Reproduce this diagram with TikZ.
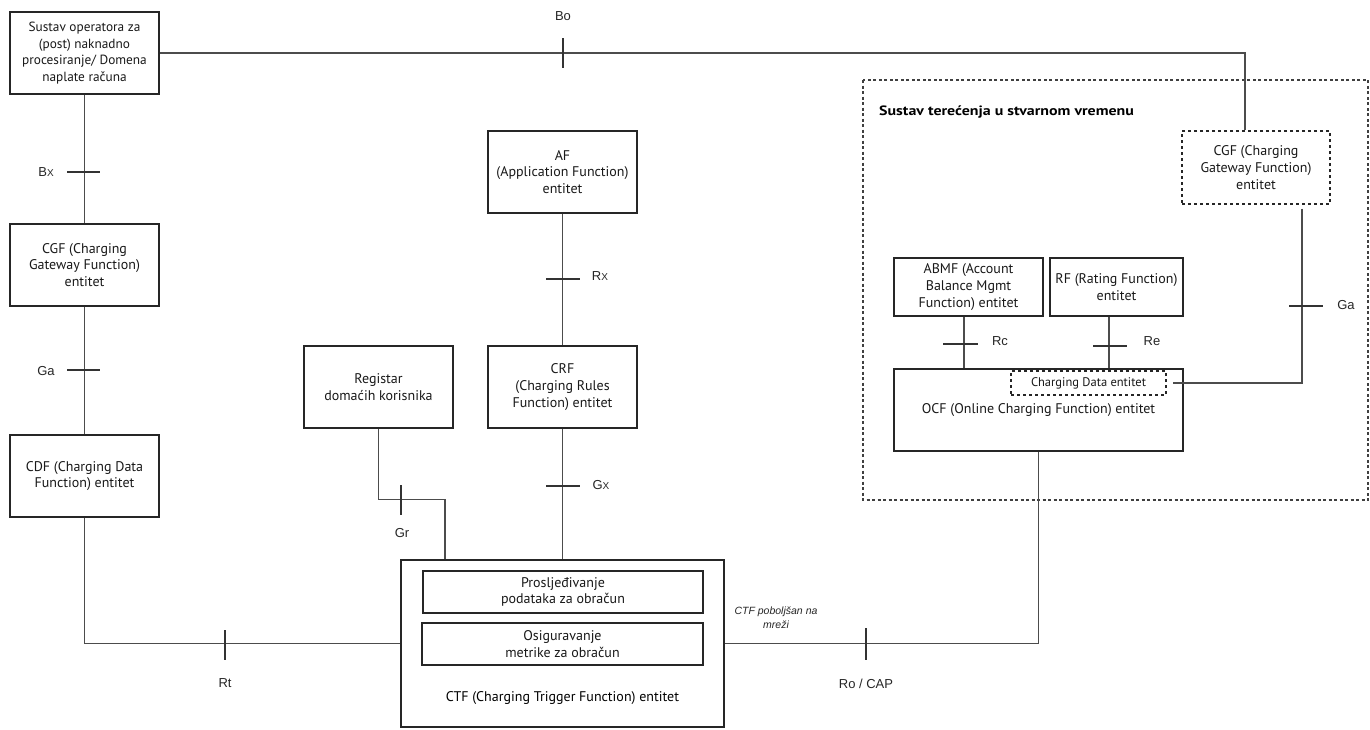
\documentclass[tikz,border=0pt]{standalone}
\usepackage{fontspec}
\setmainfont{PT Sans}
\newfontfamily\lblfont{Liberation Sans}
\newfontfamily\titlefont[FakeStretch=1.18]{PT Sans Bold}
\begin{document}
\begin{tikzpicture}[x=1pt,y=-1pt,
  box/.style={draw=black!85,line width=1.2pt,align=center,inner sep=2pt,font=\fontsize{14}{16.8}\selectfont,text=black!90},
  dbox/.style={box,dashed},
  conn/.style={draw=black!70,line width=1.4pt},
  tick/.style={draw=black!80,line width=1.3pt},
  lbl/.style={font=\lblfont\fontsize{13}{15}\selectfont,text=black!85,inner sep=0pt}]
\useasboundingbox (0,0) rectangle (1370,729);
\fill[white] (0,0) rectangle (1370,729);
% outer dashed region
\draw[black!75,line width=1.1pt,dash pattern=on 3pt off 2.5pt] (863,80) rectangle (1368,500);
\node[font=\titlefont\fontsize{13.5}{15}\selectfont,anchor=west,inner sep=0pt] (title) at (879,112) {Sustav terećenja u stvarnom vremenu};
% boxes
\node[box,minimum width=149pt,minimum height=82pt,font=\fontsize{13.3}{16.8}\selectfont] (sus) at (84.5,53) {Sustav operatora za\\(post) naknadno\\procesiranje/ Domena\\naplate računa};
\node[box,minimum width=149pt,minimum height=82pt] (cgf) at (84.5,265) {CGF (Charging\\Gateway Function)\\entitet};
\node[box,minimum width=149pt,minimum height=82pt] (cdf) at (84.5,476) {CDF (Charging Data\\Function) entitet};
\node[box,minimum width=149pt,minimum height=82pt] (af) at (562.5,172) {AF\\(Application Function)\\entitet};
\node[box,minimum width=149pt,minimum height=82pt] (crf) at (562.5,387) {CRF\\(Charging Rules\\Function) entitet};
\node[box,minimum width=149pt,minimum height=82pt] (reg) at (378.5,387) {Registar\\domaćih korisnika};
\node[box,minimum width=323pt,minimum height=167pt] (ctf) at (562.5,643.5) {};
\node[box,minimum width=280pt,minimum height=42pt] (pro) at (563,592) {Prosljeđivanje\\podataka za obračun};
\node[box,minimum width=281pt,minimum height=42pt] (osi) at (562.5,644) {Osiguravanje\\metrike za obračun};
\node[font=\fontsize{14}{16}\selectfont,inner sep=0pt] (ctfl) at (562.5,698) {CTF (Charging Trigger Function) entitet};
\node[dbox,minimum width=148pt,minimum height=73pt] (cgf2) at (1256,167.5) {CGF (Charging\\Gateway Function)\\entitet};
\node[box,minimum width=149pt,minimum height=58pt] (abmf) at (968.5,287) {ABMF (Account\\Balance Mgmt\\Function) entitet};
\node[box,minimum width=133pt,minimum height=58pt] (rf) at (1116.5,287) {RF (Rating Function)\\entitet};
\node[box,minimum width=289pt,minimum height=82pt] (ocf) at (1038.5,410) {OCF (Online Charging Function) entitet};
\node[dbox,minimum width=155pt,minimum height=24pt,font=\fontsize{12.5}{14}\selectfont] (cd) at (1088.5,383) {Charging Data entitet};
% connectors
\draw[conn] (sus.east) -| ([xshift=-11pt]cgf2.north);
\draw[conn] (sus) -- (cgf);
\draw[conn] (cgf) -- (cdf);
\draw[conn] (cdf.south) |- (ctf.west);
\draw[conn] (af) -- (crf);
\draw[conn] (crf) -- (ctf.north);
\draw[conn] (reg.south) |- ([xshift=-117.5pt,yshift=60pt]ctf.north) -- ([xshift=-117.5pt]ctf.north);
\draw[conn] (ocf.south) |- (ctf.east);
\draw[conn] ([xshift=-4.5pt]abmf.south) -- ([xshift=-4.5pt]abmf.south |- ocf.north);
\draw[conn] ([xshift=-7.5pt]rf.south) -- ([xshift=-7.5pt]rf.south |- ocf.north);
\draw[conn] ([xshift=46pt,yshift=-4pt]cgf2.south) |- ([xshift=6pt]cd.east);
% ticks
\draw[tick] (563,38) -- (563,68);
\draw[tick] (67,172) -- (100,172);
\draw[tick] (67,370) -- (100,370);
\draw[tick] (546,279) -- (580,279);
\draw[tick] (546,486) -- (580,486);
\draw[tick] (401,485) -- (401,515);
\draw[tick] (225,630) -- (225,660);
\draw[tick] (866,628) -- (866,660);
\draw[tick] (943,344) -- (978,344);
\draw[tick] (1093,346) -- (1127,346);
\draw[tick] (1289,306) -- (1323,306);
% labels
\node[lbl] (lbo) at (563,16) {Bo};
\node[lbl] (lbx) at (46,172) {B{\fontsize{10}{12}\selectfont X}};
\node[lbl] (lga) at (46,371) {Ga};
\node[lbl] (lrx) at (600,276) {R{\fontsize{10}{12}\selectfont X}};
\node[lbl] (lgx) at (601,485) {G{\fontsize{10}{12}\selectfont X}};
\node[lbl] (lgr) at (402,533) {Gr};
\node[lbl] (lrt) at (225,683) {Rt};
\node[lbl] (lro) at (866,684) {Ro / CAP};
\node[lbl] (lrc) at (1000,341) {Rc};
\node[lbl] (lre) at (1152,341) {Re};
\node[lbl] (lga2) at (1346,305) {Ga};
\node[lbl,font=\lblfont\itshape\fontsize{10.5}{14}\selectfont,align=center] (lctf) at (776,618) {CTF poboljšan na\\mreži};
\end{tikzpicture}
\end{document}
